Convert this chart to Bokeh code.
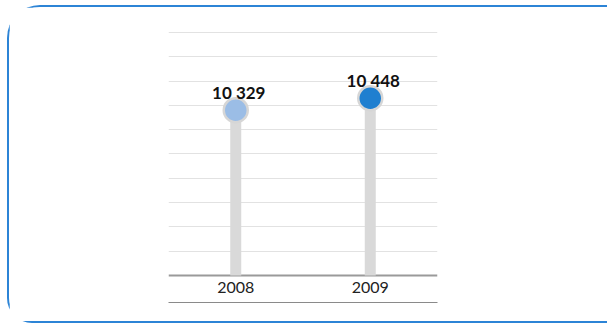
from bokeh.plotting import figure
from bokeh.layouts import column
from bokeh.models import Range1d, FactorRange, FixedTicker, ColumnDataSource, InlineStyleSheet
from bokeh.core.properties import value
from bokeh.embed import file_html
from bokeh.resources import INLINE

years = ["2008", "2009"]
values = [10329, 10448]
colors = ["#9bbde6", "#1f7fd0"]
labels = [f"{v:,}".replace(",", " ") for v in values]

baseline, y_step = 8690, 241
y_top = 11110     # one pixel above the top grid line
y_bottom = 8422   # band below the baseline for the category labels

src = ColumnDataSource(dict(x=years, y=values, c=colors, t=labels,
                            y0=[baseline] * len(years)))

W, H = 598, 314
p = figure(width=W, height=H, x_range=FactorRange(*years),
           y_range=Range1d(y_bottom, y_top), output_backend="svg",
           toolbar_location=None, title=None,
           min_border_left=159, min_border_right=W - 159 - 269,
           min_border_top=24, min_border_bottom=H - 24 - 271)
p.x_range.range_padding = 0
p.outline_line_color = None
p.background_fill_color = "white"
p.border_fill_color = "white"

p.yaxis.visible = False
p.ygrid.ticker = FixedTicker(ticks=[baseline + y_step * k for k in range(1, 11)])
p.ygrid.grid_line_color = "#e2e2e2"
p.ygrid.grid_line_width = 1
p.xgrid.visible = False

ax = p.xaxis[0]
ax.axis_line_color = "#8a8a8a"
ax.axis_line_width = 1
ax.major_tick_line_color = None
ax.minor_tick_line_color = None
ax.major_label_text_font = "Lato"
ax.major_label_text_font_size = "16px"
ax.major_label_text_color = "#222222"
ax.major_label_standoff = -27

# baseline of the stems
p.hspan(y=[baseline], line_color="#9a9a9a", line_width=2)

p.segment(x0="x", y0="y0", x1="x", y1="y", source=src, line_color="#d9d9d9",
          line_width=11, line_cap="butt")
p.scatter(x="x", y="y", source=src, size=24, fill_color="c",
          line_color="#d6d6d6", line_width=2.5)
p.text(x="x", y="y", text="t", source=src, text_font=value("Lato"),
       text_font_style="bold", text_font_size="17px", text_color="#111111",
       text_align="center", text_baseline="alphabetic", y_offset=-18, x_offset=3)

layout = column(p, stylesheets=[InlineStyleSheet(css="""
:host {
  box-sizing: content-box !important;
  border-top: 2px solid #2c84d6 !important;
  border-left: 2px solid #2c84d6 !important;
  border-bottom: 2px solid #2c84d6 !important;
  border-right: none !important;
  border-radius: 33px 0 0 25px !important;
  margin: 5px 0 0 7px !important;
}
""")])

open("out.html", "w").write(file_html(layout, INLINE))
